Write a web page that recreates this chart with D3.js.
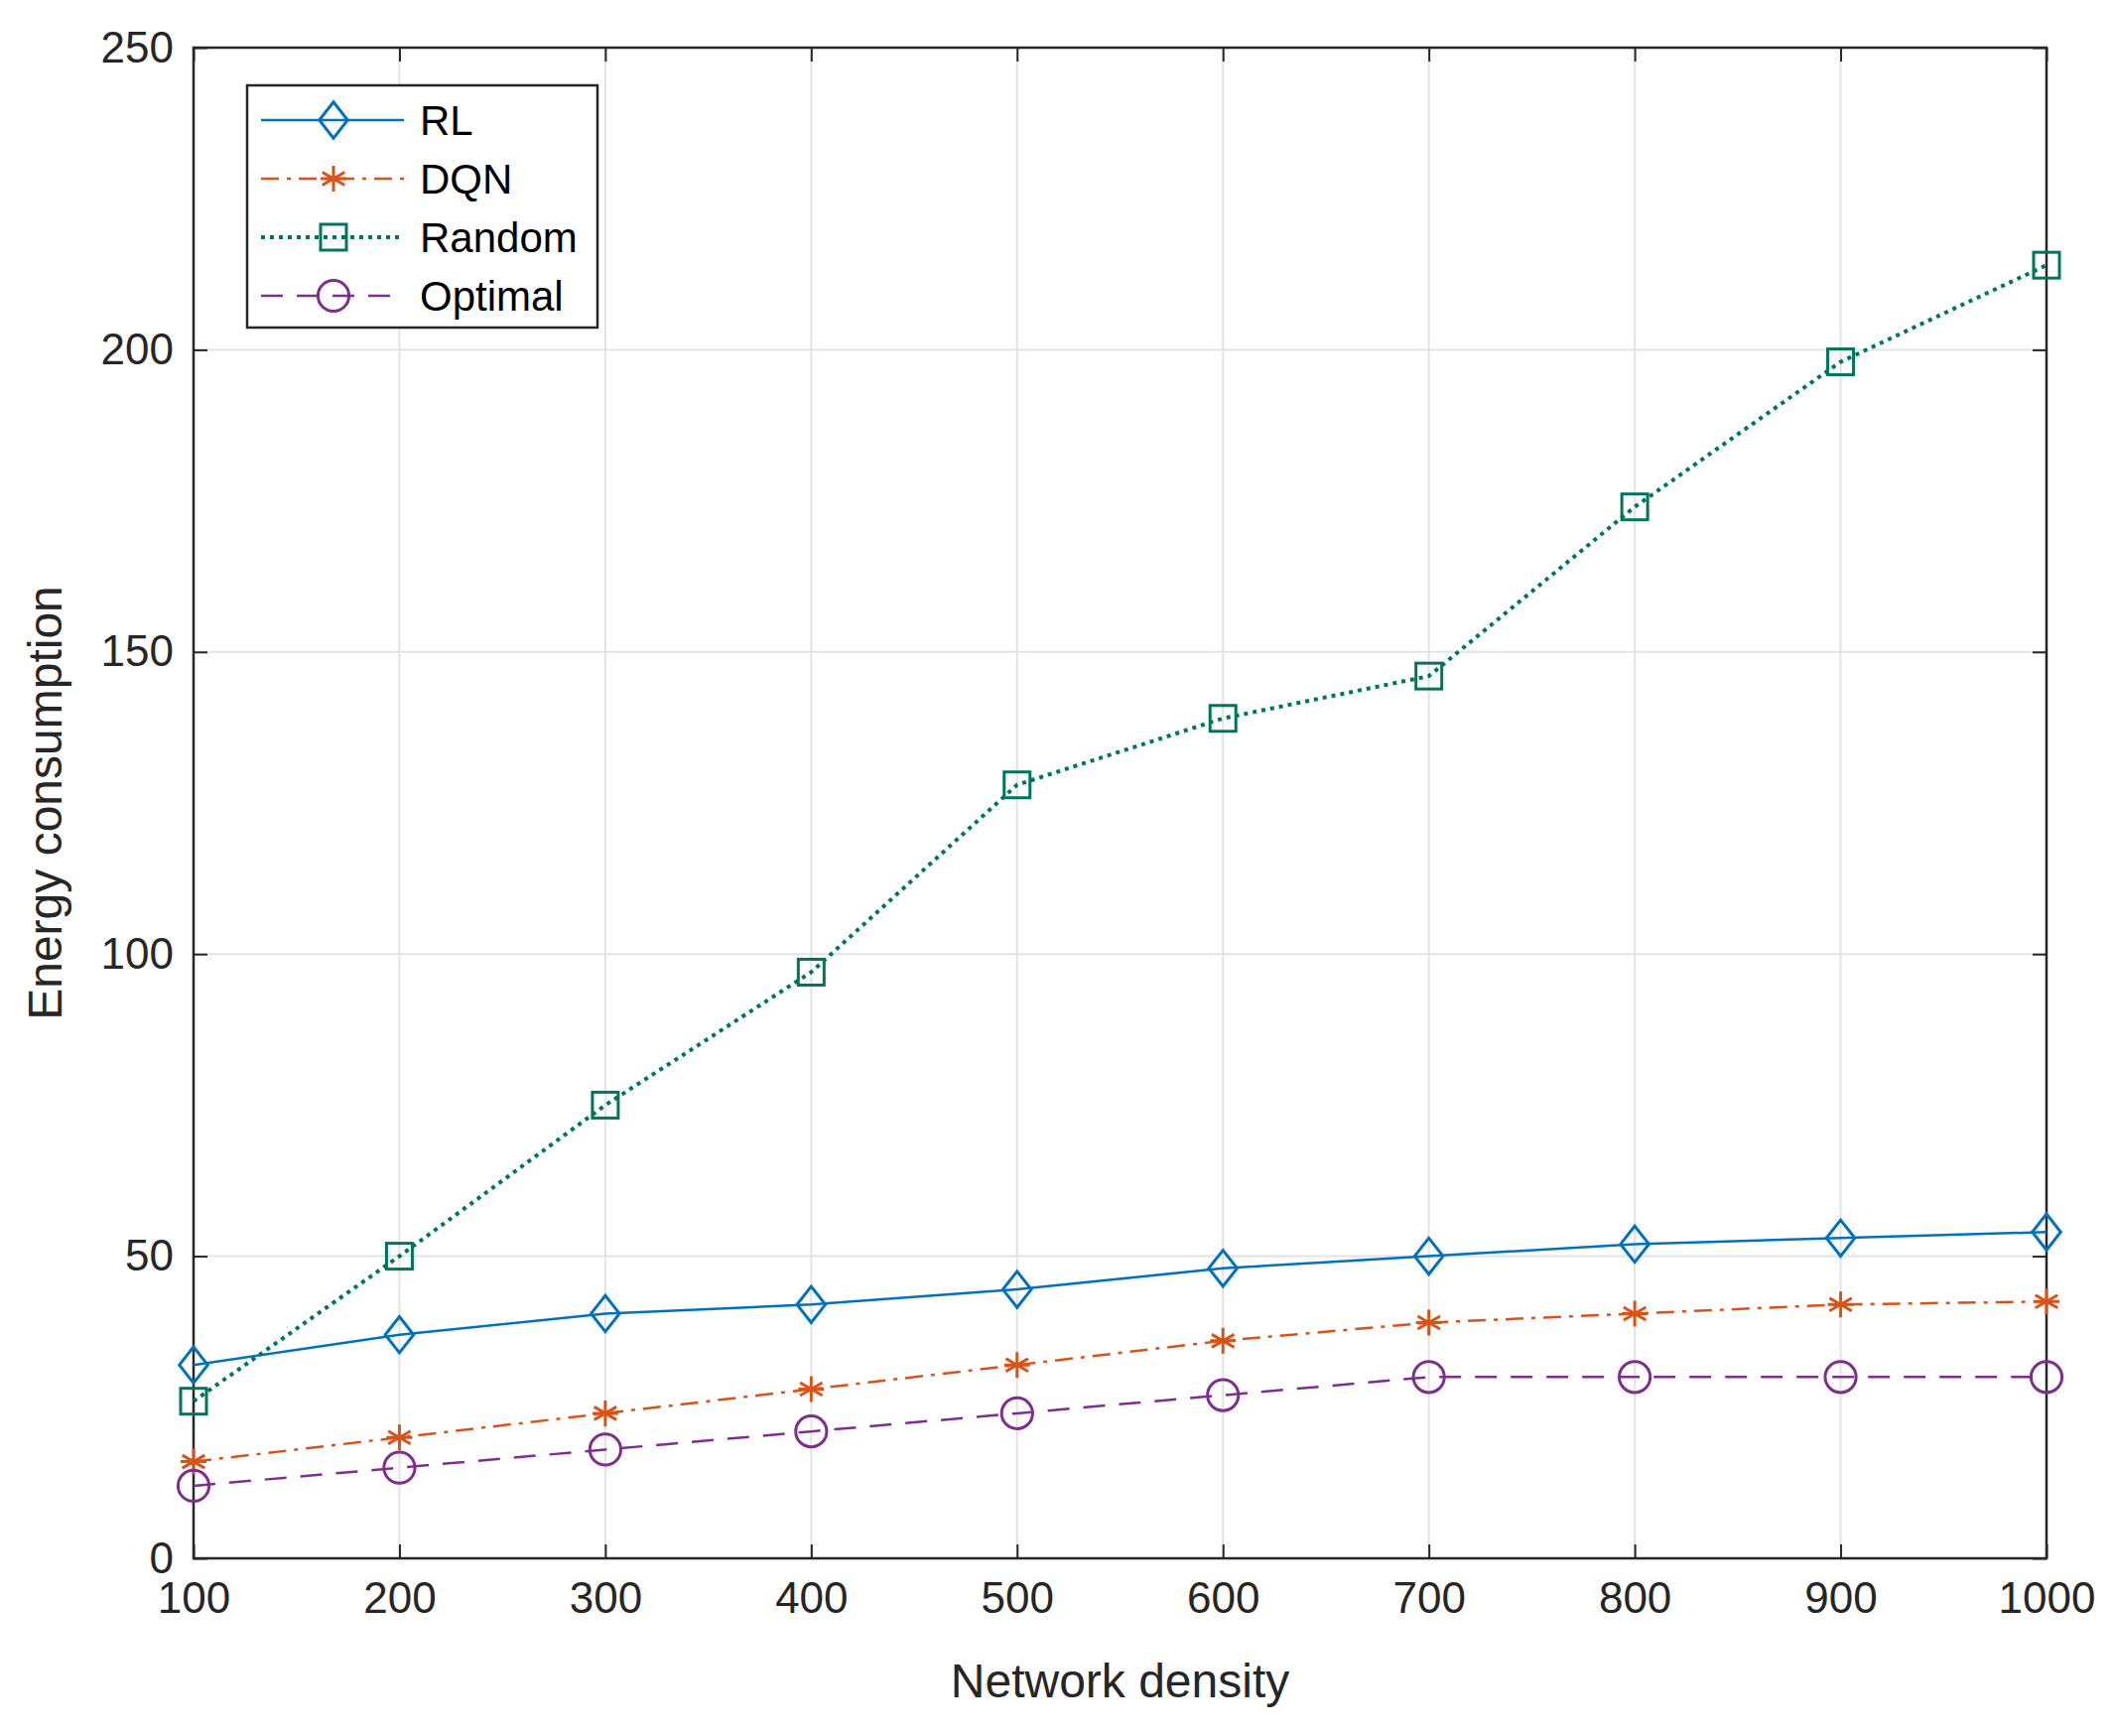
<!DOCTYPE html>
<html><head><meta charset="utf-8">
<script src="https://cdn.jsdelivr.net/npm/d3@7"></script>
<style>body{margin:0;background:#fff}text{font-family:Arial,"Liberation Sans",sans-serif}</style>
</head><body><svg id="c" width="2129" height="1749"></svg>
<script>
const xValues = [100, 200, 300, 400, 500, 600, 700, 800, 900, 1000];
const rlValues = [32, 37, 40.5, 42, 44.5, 48, 50, 52, 53, 54];
const dqnValues = [16, 20, 24, 28, 32, 36, 39, 40.5, 42, 42.5];
const randomValues = [26, 50, 75, 97, 128, 139, 146, 174, 198, 214];
const optimalValues = [12, 15, 18, 21, 24, 27, 30, 30, 30, 30];
const yTicks = [0, 50, 100, 150, 200, 250];

const series = [
  { name: 'RL', values: rlValues, color: '#0072BD', dash: null, marker: 'diamond', w: 2.5 },
  { name: 'DQN', values: dqnValues, color: '#D95319', dash: '18,8,4,8', marker: 'star', w: 2.5 },
  { name: 'Random', values: randomValues, color: '#00755E', dash: '4,5', marker: 'square', w: 4 },
  { name: 'Optimal', values: optimalValues, color: '#7E2F8E', dash: '22,14', marker: 'circle', w: 2.5 }
];

const margin = { top: 48, right: 67, bottom: 179, left: 195 };
const width = 2129 - margin.left - margin.right;
const height = 1749 - margin.top - margin.bottom;

const $svg = d3.select('#c');
const $g = $svg.append('g').attr('transform', `translate(${margin.left},${margin.top})`);

const scaleX = d3.scaleLinear().domain([100, 1000]).range([0, width]);
const scaleY = d3.scaleLinear().domain([0, 250]).range([height, 0]);

// grid
$g.append('g').selectAll('line').data(xValues).enter().append('line')
  .attr('x1', d => scaleX(d)).attr('x2', d => scaleX(d)).attr('y1', 0).attr('y2', height)
  .attr('stroke', '#e3e3e3').attr('stroke-width', 2);
$g.append('g').selectAll('line').data(yTicks).enter().append('line')
  .attr('y1', d => scaleY(d)).attr('y2', d => scaleY(d)).attr('x1', 0).attr('x2', width)
  .attr('stroke', '#e3e3e3').attr('stroke-width', 2);

function styleAxis($a) {
  $a.select('.domain').remove();
  $a.selectAll('line').attr('stroke', '#262626').attr('stroke-width', 2);
  $a.selectAll('text').attr('fill', '#262626').style('font-size', '44px');
}
const axisB = $g.append('g').attr('transform', `translate(0,${height})`)
  .call(d3.axisBottom(scaleX).tickValues(xValues).tickFormat(d3.format('d')).tickSizeInner(-14).tickSizeOuter(0).tickPadding(24));
styleAxis(axisB);
const axisT = $g.append('g').call(d3.axisTop(scaleX).tickValues(xValues).tickSizeInner(-14).tickSizeOuter(0).tickFormat(''));
styleAxis(axisT);
const axisL = $g.append('g')
  .call(d3.axisLeft(scaleY).tickValues(yTicks).tickSizeInner(-14).tickSizeOuter(0).tickPadding(20));
styleAxis(axisL);
const axisR = $g.append('g').attr('transform', `translate(${width},0)`)
  .call(d3.axisRight(scaleY).tickValues(yTicks).tickSizeInner(-14).tickSizeOuter(0).tickFormat(''));
styleAxis(axisR);
$g.append('rect').attr('width', width).attr('height', height)
  .attr('fill', 'none').attr('stroke', '#262626').attr('stroke-width', 2.5);

function drawMarker($p, type, color) {
  const s = 13;
  if (type === 'diamond') $p.append('path').attr('d', `M0,${-s * 1.4}L${s * 1.1},0L0,${s * 1.4}L${-s * 1.1},0Z`);
  else if (type === 'square') $p.append('rect').attr('x', -s).attr('y', -s).attr('width', 2 * s).attr('height', 2 * s);
  else if (type === 'circle') $p.append('circle').attr('r', s * 1.2);
  else {
    const r = s;
    $p.append('path').attr('d', [0, 60, 120].map(a => {
      const t = a * Math.PI / 180;
      return `M${-r * Math.sin(t)},${-r * Math.cos(t)}L${r * Math.sin(t)},${r * Math.cos(t)}`;
    }).join('') + `M${-r},0L${r},0`);
  }
  $p.selectAll('*').attr('fill', 'none').attr('stroke', color).attr('stroke-width', 3);
}

const line = d3.line().x((d, i) => scaleX(xValues[i])).y(d => scaleY(d));
series.forEach(s => {
  $g.append('path').datum(s.values).attr('d', line).attr('fill', 'none')
    .attr('stroke', s.color).attr('stroke-width', s.w).attr('stroke-dasharray', s.dash);
  s.values.forEach((v, i) => {
    const $m = $g.append('g').attr('transform', `translate(${scaleX(xValues[i])},${scaleY(v)})`);
    drawMarker($m, s.marker, s.color);
  });
});

// legend
const $leg = $svg.append('g').attr('transform', 'translate(249,86)');
$leg.append('rect').attr('width', 353).attr('height', 244).attr('fill', '#fff')
  .attr('stroke', '#262626').attr('stroke-width', 2.5);
series.forEach((s, i) => {
  const y = 35 + i * 59;
  $leg.append('line').attr('x1', 14).attr('x2', 158).attr('y1', y).attr('y2', y)
    .attr('stroke', s.color).attr('stroke-width', s.w).attr('stroke-dasharray', s.dash);
  drawMarker($leg.append('g').attr('transform', `translate(87,${y})`), s.marker, s.color);
  $leg.append('text').attr('x', 174).attr('y', y + 15).text(s.name)
    .style('font-size', '42px').attr('fill', '#000');
});

$svg.append('text').attr('x', margin.left + width / 2).attr('y', 1710).attr('text-anchor', 'middle')
  .style('font-size', '48px').attr('fill', '#262626').text('Network density');
$svg.append('text').attr('transform', `translate(62,${margin.top + height / 2}) rotate(-90)`)
  .attr('text-anchor', 'middle').style('font-size', '48px').attr('fill', '#262626').text('Energy consumption');
</script></body></html>
